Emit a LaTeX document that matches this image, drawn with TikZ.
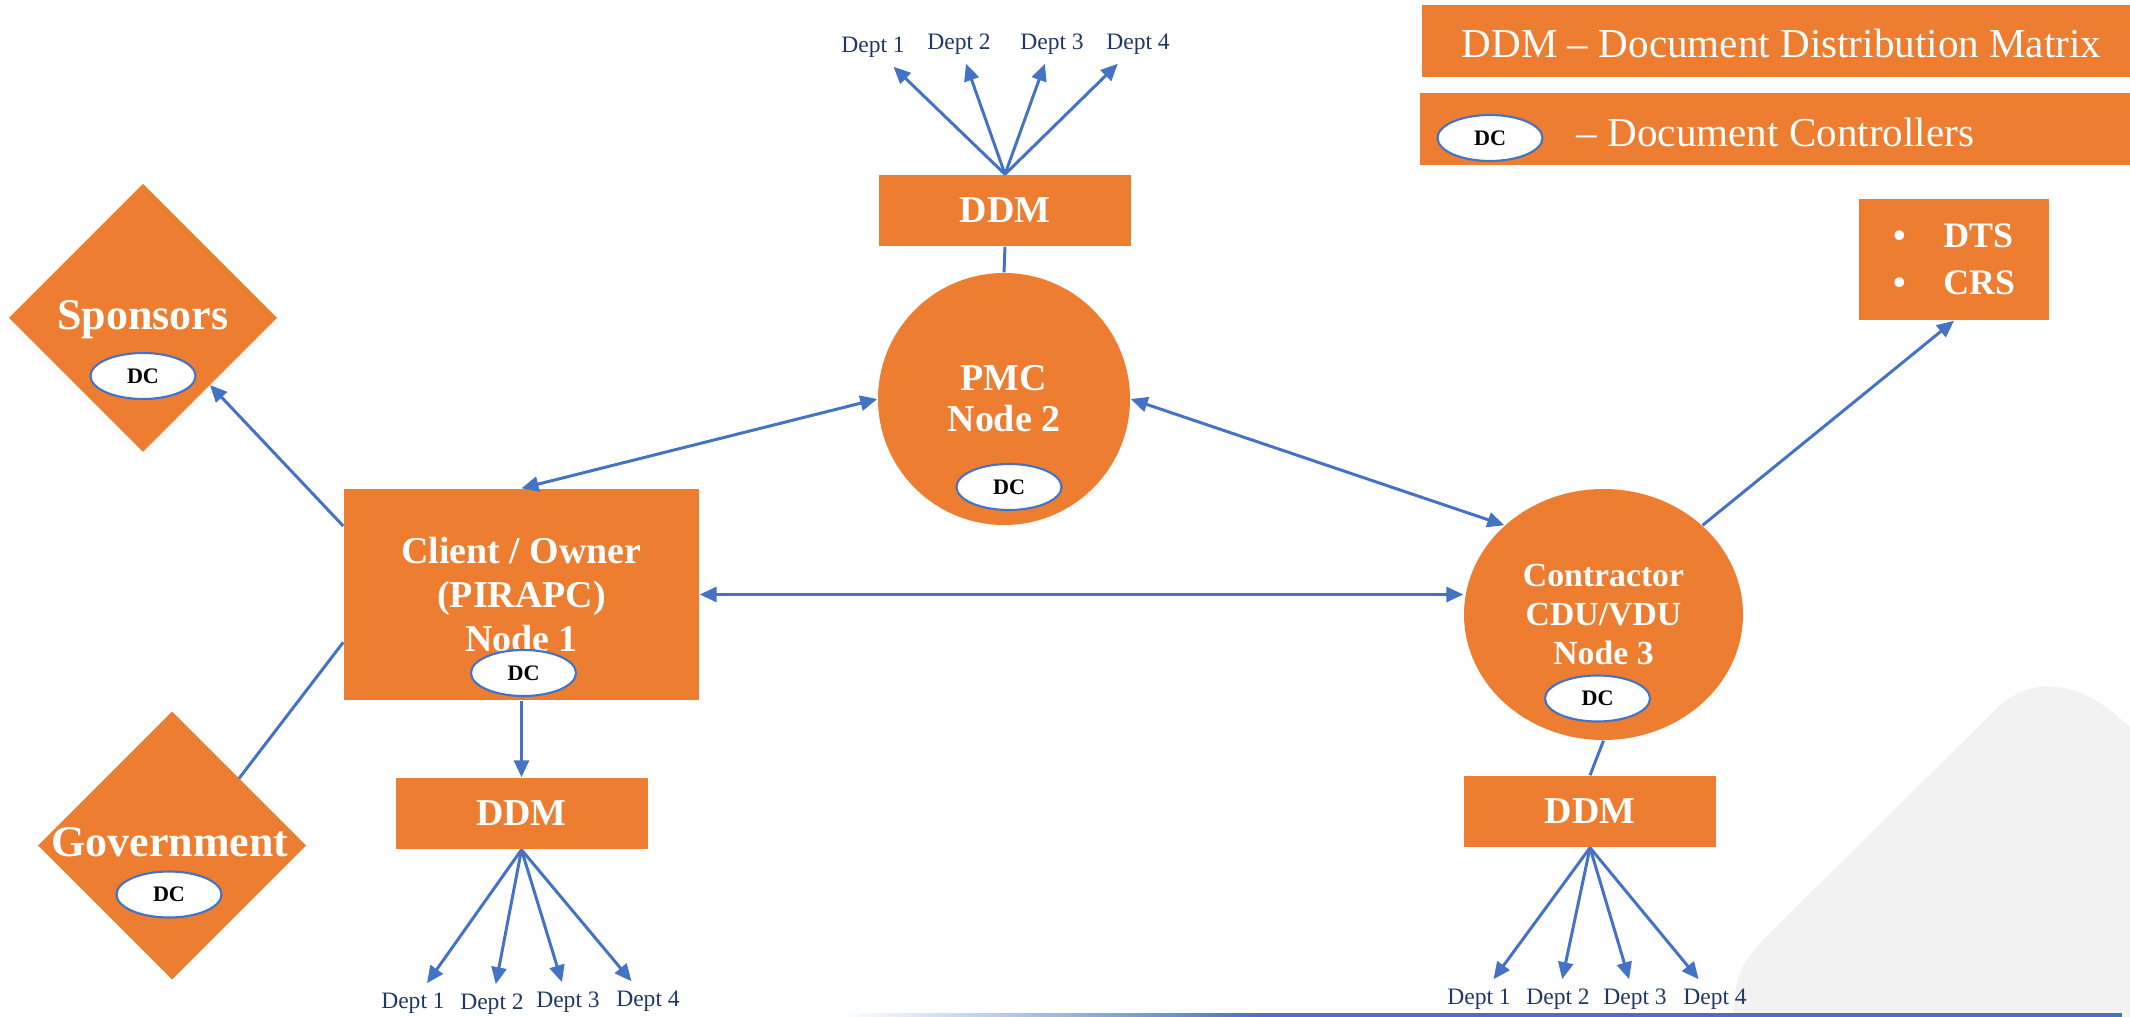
\documentclass[tikz,border=0pt]{standalone}
\usepackage{fontspec}
\setmainfont{Liberation Serif}
\usepackage{tikz}
\usetikzlibrary{arrows.meta,positioning,shapes.geometric}
\definecolor{org}{HTML}{ED7D31}
\definecolor{lnk}{HTML}{4472C4}
\definecolor{dpt}{HTML}{1F3864}
\definecolor{bgfill}{HTML}{F2F2F2}
\newcommand{\setfs}[2]{\fontsize{#1}{#2}\selectfont}
\tikzset{
  >={Triangle[length=1.7mm,width=1.5mm]},
  blk/.style={fill=org, draw=none, text=white, align=center, inner sep=0pt},
  ddmbox/.style={blk, minimum width=2.52cm, minimum height=0.71cm,
    font=\setfs{10.8}{13}\bfseries},
  party/.style={blk, diamond, aspect=1, minimum width=2.68cm,
    minimum height=2.68cm, outer sep=0pt},
  ptxt/.style={text=white, inner sep=0pt, font=\setfs{12.5}{14}\bfseries},
  dc/.style={ellipse, draw=lnk, fill=white, line width=0.6pt, inner sep=0pt,
    minimum width=1.05cm, minimum height=0.46cm, font=\setfs{6.3}{7}\bfseries},
  legbox/.style={fill=org, draw=none, minimum height=0.72cm, anchor=west},
  legtxt/.style={text=white, inner sep=0pt, font=\setfs{11.7}{14}},
  dept/.style={text=dpt, inner sep=2.5pt, font=\setfs{6.7}{8}},
  link/.style={draw=lnk, line width=0.85pt},
  arr/.style={link, ->},
  darr/.style={link, <->},
}
\begin{document}
\begin{tikzpicture}
  \useasboundingbox (0,0) rectangle (21.3,-10.17);
  % ---------------- backdrop ----------------
  \fill[bgfill] (17.33,-10.17) .. controls (17.34,-9.75) and (17.45,-9.6) .. (17.6,-9.43)
    -- (19.93,-7.12) .. controls (20.15,-6.9) and (20.35,-6.85) .. (20.55,-6.87)
    .. controls (20.8,-6.89) and (21.0,-7.0) .. (21.3,-7.27) -- (21.3,-10.17) -- cycle;
  \fill[left color=white, right color=lnk] (8.45,-10.13) rectangle (12.6,-10.165);
  \fill[lnk] (12.6,-10.13) rectangle (21.22,-10.165);

  % ---------------- legend ----------------
  \node[legbox, minimum width=7.09cm] (leg1) at (14.21,-0.41) {};
  \node[legtxt, anchor=west] at (14.61,-0.43) {DDM – Document Distribution Matrix};
  \node[legbox, minimum width=7.11cm] (leg2) at (14.19,-1.29) {};
  \node[dc] (dcL) at (14.90,-1.38) {DC};
  \node[legtxt, anchor=west] at (15.76,-1.32) {– Document Controllers};

  % ---------------- parties ----------------
  \node[party] (spons) at (1.43,-3.18) {};
  \node[ptxt] at (1.43,-3.195) {Sponsors};
  \node[dc] (dcS) at (1.43,-3.76) {DC};
  \node[party] (govt) at (1.72,-8.455) {};
  \node[ptxt] at (1.70,-8.42) {Government};
  \node[dc] (dcG) at (1.69,-8.945) {DC};

  % ---------------- nodes ----------------
  \node[blk, minimum width=3.55cm, minimum height=2.11cm,
    font=\setfs{10.8}{12.5}\bfseries] (client) at (5.215,-5.945) {Client / Owner\\(PIRAPC)\\Node 1};
  \node[dc] (dcC) at (5.235,-6.73) {DC};
  \node[blk, circle, minimum size=2.52cm, font=\setfs{10.8}{11.7}\bfseries] (pmc) at (10.04,-3.99) {PMC\\Node 2};
  \node[dc] (dcP) at (10.09,-4.87) {DC};
  \node[blk, ellipse, minimum width=2.79cm, minimum height=2.51cm,
    font=\setfs{9.6}{11.1}\bfseries] (contr) at (16.035,-6.145) {Contractor\\CDU/VDU\\Node 3};
  \node[dc] (dcK) at (15.975,-6.985) {DC};
  \node[blk, minimum width=1.90cm, minimum height=1.21cm, align=left,
    font=\setfs{10.2}{13.4}\bfseries] (dts) at (19.54,-2.595) {\textbullet\hspace{1.05em}DTS\\\textbullet\hspace{1.05em}CRS};

  % ---------------- distribution matrices ----------------
  \node[ddmbox] (ddmP) at (10.05,-2.105) {DDM};
  \node[ddmbox] (ddmC) at (5.215,-8.135) {DDM};
  \node[ddmbox] (ddmK) at (15.90,-8.115) {DDM};

  \node[dept] (dP1) at (8.73,-0.47) {Dept 1};
  \node[dept] (dP2) at (9.59,-0.44) {Dept 2};
  \node[dept] (dP3) at (10.52,-0.44) {Dept 3};
  \node[dept] (dP4) at (11.38,-0.44) {Dept 4};
  \node[dept] (dC1) at (4.13,-10.03) {Dept 1};
  \node[dept] (dC2) at (4.92,-10.04) {Dept 2};
  \node[dept] (dC3) at (5.68,-10.02) {Dept 3};
  \node[dept] (dC4) at (6.48,-10.01) {Dept 4};
  \node[dept] (dK1) at (14.79,-9.99) {Dept 1};
  \node[dept] (dK2) at (15.58,-9.99) {Dept 2};
  \node[dept] (dK3) at (16.35,-9.99) {Dept 3};
  \node[dept] (dK4) at (17.15,-9.99) {Dept 4};

  \foreach \i in {1,...,4} {
    \draw[arr] (ddmP.north) -- (dP\i);
    \draw[arr] (ddmC.south) -- (dC\i);
    \draw[arr] (ddmK.south) -- (dK\i);
  }

  % ---------------- connectors ----------------
  \draw[link] (ddmP.south) -- (pmc.north);
  \draw[link] (contr.south) -- (ddmK.north);
  \draw[arr] (client.south) -- (ddmC.north);
  \draw[arr] (client.159) -- (spons.-45);
  \draw[link] (client.195) -- (govt.45);
  \draw[darr] (client.north) -- (pmc.west);
  \draw[darr] (pmc.east) -- (contr.138);
  \draw[darr] (client.east) -- (client.east -| contr.west);
  \draw[arr] (contr.42) -- (dts.south);
\end{tikzpicture}
\end{document}
